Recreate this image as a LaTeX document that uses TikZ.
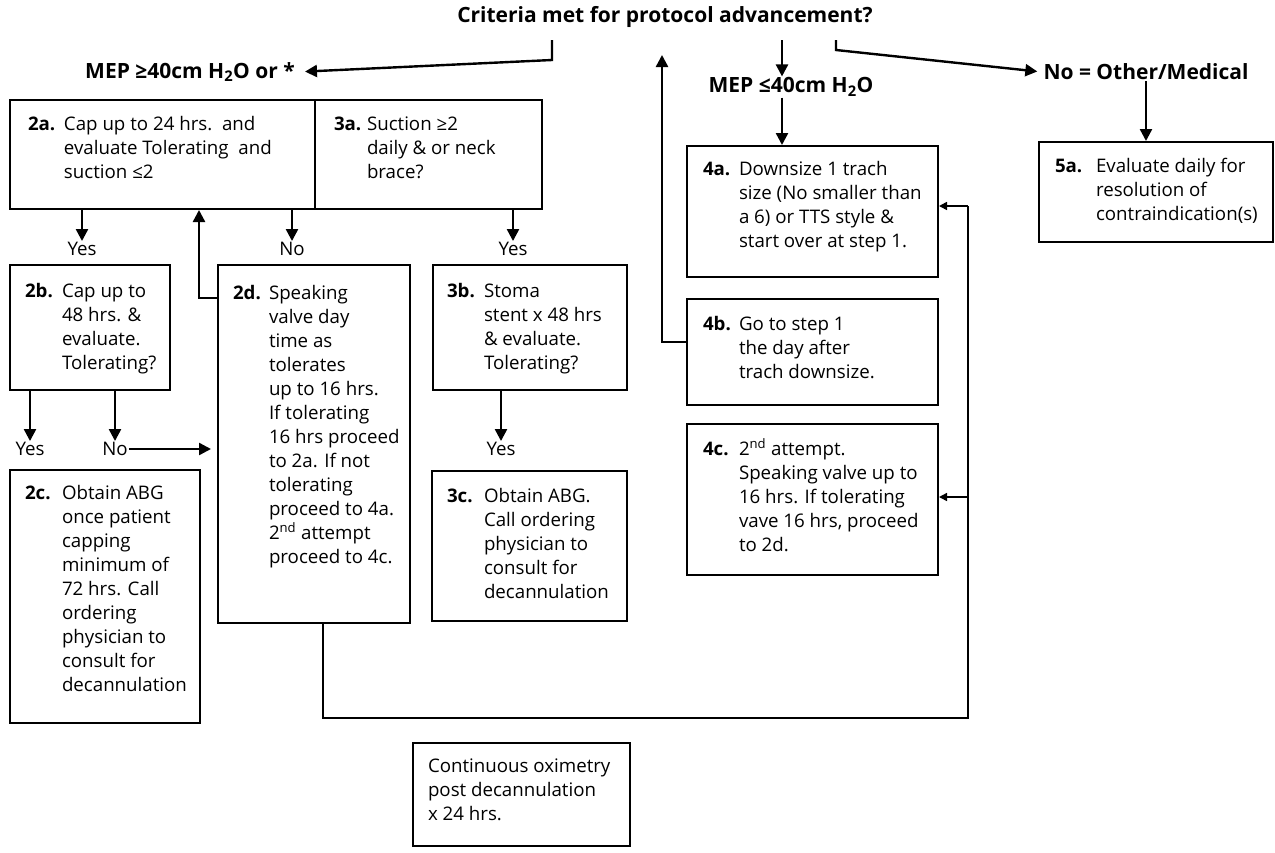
\documentclass[tikz,border=0pt]{standalone}
\usepackage{fontspec}
\setmainfont{Open Sans}
\usetikzlibrary{arrows.meta}
\tikzset{
  stepbox/.style={draw, line width=2pt, inner sep=0pt, anchor=north west, font=\fontsize{18.7}{24}\selectfont},
  arr/.style={line width=2.4pt, -{Triangle[length=12pt,width=12pt]}},
  thinarr/.style={line width=1.6pt, -{Triangle[length=8pt,width=8pt]}},
  loopline/.style={line width=1.6pt},
  lbl/.style={inner sep=1pt, font=\fontsize{18.7}{24}\selectfont},
  head/.style={inner sep=1pt, font=\fontsize{21}{24}\selectfont\bfseries},
}
% #1 width, #2 height, #3 top-to-baseline, #4 left pad, #5 label width, #6 label, #7 body lines
\newcommand\stepbody[7]{\parbox[t][#2][t]{#1}{\noindent\rule{0pt}{#3}\hspace*{#4}\makebox[#5][l]{\bfseries #6}\begin{tabular}[t]{@{}l@{}}#7\end{tabular}}}
\begin{document}
\begin{tikzpicture}[x=1pt,y=-1pt]
\useasboundingbox[fill=white] (0,0) rectangle (1275,852);

% headings
\node[head] (title) at (665,17) {Criteria met for protocol advancement?};
\node[head] (mepa) at (190,72) {MEP ≥40cm H\textsubscript{2}O or *};
\node[head] (mepb) at (791,87) {MEP ≤40cm H\textsubscript{2}O};
\node[head] (other) at (1146,72) {No = Other/Medical};

% boxes
\node[stepbox] (n2a) at (9,99) {\stepbody{305pt}{109pt}{30pt}{18pt}{36pt}{2a.}{Cap up to 24 hrs.\ \ and\\evaluate Tolerating\ \ and\\suction ≤2}};
\node[stepbox] (n3a) at (314,99) {\stepbody{227pt}{109pt}{30pt}{19pt}{33pt}{3a.}{Suction ≥2\\daily \& or neck\\brace?}};
\node[stepbox] (n2b) at (9,264) {\stepbody{160pt}{125pt}{32pt}{15pt}{37pt}{2b.}{Cap up to\\48 hrs. \&\\evaluate.\\Tolerating?}};
\node[stepbox] (n2c) at (9,469) {\stepbody{190pt}{253pt}{29pt}{15pt}{37pt}{2c.}{Obtain ABG\\once patient\\capping\\minimum of\\72 hrs. Call\\ordering\\physician to\\consult for\\decannulation}};
\node[stepbox] (n2d) at (217,264) {\stepbody{192pt}{358pt}{34pt}{15pt}{36pt}{2d.}{Speaking\\valve day\\time as\\tolerates\\up to 16 hrs.\\If tolerating\\16 hrs proceed\\to 2a. If not\\tolerating\\proceed to 4a.\\2\textsuperscript{nd} attempt\\proceed to 4c.}};
\node[stepbox] (n3b) at (432,264) {\stepbody{194pt}{125pt}{32pt}{14pt}{37pt}{3b.}{Stoma\\stent x 48 hrs\\\& evaluate.\\Tolerating?}};
\node[stepbox] (n3c) at (431,470) {\stepbody{195pt}{150pt}{31pt}{15pt}{37pt}{3c.}{Obtain ABG.\\Call ordering\\physician to\\consult for\\decannulation}};
\node[stepbox] (n4a) at (686,145) {\stepbody{251pt}{131pt}{29pt}{16pt}{36pt}{4a.}{Downsize 1 trach\\size (No smaller than\\a 6) or TTS style \&\\start over at step 1.}};
\node[stepbox] (n4b) at (686,298) {\stepbody{251pt}{106pt}{31pt}{16pt}{36pt}{4b.}{Go to step 1\\the day after\\trach downsize.}};
\node[stepbox] (n4c) at (686,423) {\stepbody{251pt}{151pt}{31pt}{16pt}{36pt}{4c.}{2\textsuperscript{nd} attempt.\\Speaking valve up to\\16 hrs. If tolerating\\vave 16 hrs, proceed\\to 2d.}};
\node[stepbox] (n5a) at (1038,141) {\stepbody{234pt}{100pt}{30pt}{16pt}{41pt}{5a.}{Evaluate daily for\\resolution of\\contraindication(s)}};
\node[stepbox] (nfin) at (412,742) {\stepbody{217pt}{103pt}{29pt}{15pt}{0pt}{}{Continuous oximetry\\post decannulation\\x 24 hrs.}};

% yes / no labels
\node[lbl] (y1) at (82,249) {Yes};
\node[lbl] (no1) at (292,249) {No};
\node[lbl] (y2) at (513,249) {Yes};
\node[lbl] (y3) at (30,449) {Yes};
\node[lbl] (no3) at (115,449) {No};
\node[lbl] (y4) at (501,449) {Yes};

% connector points
\coordinate (ta) at (552,40);
\coordinate (tb) at (552,60);
\coordinate (tc) at (782,40);
\coordinate (td) at (836,40);
\coordinate (te) at (836,50);
\coordinate (r2a) at (199,298);
\coordinate (j4b) at (662,342);
\coordinate (up) at (662,55);
\coordinate (l1) at (323,718);
\coordinate (l2) at (968,718);
\coordinate (a4a) at (968,206);
\coordinate (a4c) at (968,497);

% top connectors
\draw[arr, shorten >=9pt] (ta) -- (tb) -- (mepa.east);
\draw[arr] (tc) -- (tc |- mepb.north);
\draw[arr, shorten >=5pt] (td) -- (te) -- (other.west);
\draw[arr] (mepb.south -| tc) -- (n4a.north -| tc);
\draw[arr] (other.south) -- (n5a.north -| other.south);

% 2a / 3a outcomes
\draw[arr] (n2a.south -| y1) -- (y1.north);
\draw[arr] (n2a.south -| no1) -- (no1.north);
\draw[arr] (n3a.south -| y2) -- (y2.north);
\draw[arr] (n2d.west |- r2a) -- (r2a) -- (r2a |- n2a.south);

% 2b / 3b outcomes
\draw[arr] (n2b.south -| y3) -- (y3.north);
\draw[arr] (n2b.south -| no3) -- (no3.north);
\draw[arr, shorten >=6pt] (no3.east) -- (n2d.west |- no3);
\draw[arr] (n3b.south -| y4) -- (y4.north);

% 4b back to start
\draw[arr] (n4b.west |- j4b) -- (j4b) -- (up);

% loop from 2d to 4a / 4c
\draw[loopline] (n2d.south -| l1) -- (l1) -- (l2) -- (a4a);
\draw[thinarr] (a4a) -- (n4a.east |- a4a);
\draw[thinarr] (a4c) -- (n4c.east |- a4c);
\end{tikzpicture}
\end{document}
